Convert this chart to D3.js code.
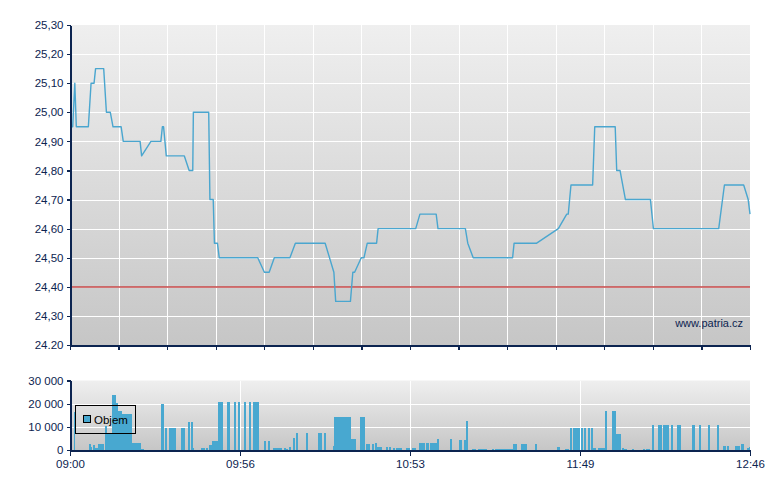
<!DOCTYPE html>
<html><head><meta charset="utf-8">
<script src="https://cdn.jsdelivr.net/npm/d3@7/dist/d3.min.js"></script>
<style>
body{margin:0;background:#fff;}
svg{display:block;font-family:"Liberation Sans",Arial,sans-serif;}
</style>
</head><body>
<svg id="c" width="780" height="490"></svg>
<script>
// ---- DATA ----
// session: 09:00 -> 12:46, times are minutes after 09:00
const sessionMinutes = 226;
const priceTimes = [0,0.9,1.6,2.1,6.1,7.0,8.0,8.5,11.2,12.1,13.4,14.3,17.0,17.7,23.3,23.8,26.9,30.2,30.7,31.1,
  32.0,38.0,39.6,40.8,41.0,46.1,46.5,47.6,48.0,49.0,49.6,62.4,64.6,66.2,67.9,73.1,74.9,84.8,87.7,88.3,
  93.2,94.0,94.6,96.8,97.7,98.8,101.9,102.4,114.9,116.3,121.7,122.3,131.4,132.2,134.0,147.1,147.6,155.1,162.3,165.1,
  165.6,166.5,173.7,174.4,181.2,181.7,182.8,184.6,192.9,193.9,215.6,217.5,223.9,225.4,226];
const priceValues = [24.95,24.95,25.10,24.95,24.95,25.10,25.10,25.15,25.15,25.00,25.00,24.95,24.95,24.90,24.90,24.85,24.90,24.90,24.95,24.95,
  24.85,24.85,24.80,24.80,25.00,25.00,24.70,24.70,24.55,24.55,24.50,24.50,24.45,24.45,24.50,24.50,24.55,24.55,24.45,24.35,
  24.35,24.45,24.45,24.50,24.50,24.55,24.55,24.60,24.60,24.65,24.65,24.60,24.60,24.55,24.50,24.50,24.55,24.55,24.60,24.65,
  24.65,24.75,24.75,24.95,24.95,24.80,24.80,24.70,24.70,24.60,24.60,24.75,24.75,24.70,24.65];
const previousClose = 24.40;

const volStart = [1.2,6.3,7.0,7.6,8.3,9.3,11.6,12.3,14.0,15.3,16.0,17.3,18.6,20.6,23.6,30.2,31.6,32.9,36.9,39.2,
  40.2,40.9,43.5,45.2,46.2,47.2,49.2,52.2,54.5,55.8,57.8,59.5,60.8,61.5,64.5,65.8,67.5,68.5,71.1,71.8,
  72.8,74.1,75.1,78.4,82.4,84.4,87.4,87.8,93.4,96.4,98.4,100.4,101.4,102.1,105.0,106.0,107.4,108.4,111.7,113.7,
  116.0,118.3,119.7,122.0,126.3,129.3,131.0,131.6,133.6,135.6,140.3,141.3,147.2,149.9,154.6,161.9,164.5,166.2,167.2,169.9,
  170.9,172.2,173.2,173.9,175.5,177.8,180.2,181.5,183.5,184.2,186.8,190.5,191.5,193.5,195.5,197.1,199.8,201.8,206.8,209.1,
  212.1,215.1,217.1,218.4,221.0,223.0,225.0,225.7];
const volEnd = [1.7,7.0,7.3,8.3,9.3,11.3,12.3,14.0,15.3,16.0,17.3,18.6,20.6,23.6,24.6,31.2,32.2,35.2,38.2,39.9,
  40.9,41.2,44.9,45.9,47.2,49.2,50.9,53.2,55.2,56.5,58.5,60.2,61.5,62.8,65.1,66.5,68.5,70.5,71.8,72.5,
  73.5,74.8,75.8,79.1,83.8,85.1,87.8,93.4,95.1,98.1,99.7,101.1,102.1,103.7,105.7,106.7,108.0,110.4,113.0,115.0,
  118.0,119.3,122.0,122.7,127.0,130.3,131.6,132.3,134.9,138.6,140.9,147.2,148.6,151.9,155.2,162.9,165.9,166.9,169.5,170.5,
  171.5,172.9,173.9,174.9,177.8,178.5,181.5,183.2,184.2,185.2,187.5,191.1,192.8,194.1,196.8,199.1,200.4,203.1,207.7,209.7,
  212.7,215.7,218.1,219.1,222.7,224.0,225.7,226.0];
const volValues = [16400,2600,1100,2100,700,2600,10300,7300,23600,20300,16900,15400,15400,3000,300,19700,9400,9400,9400,12000,
  12000,900,900,900,2100,4100,20700,20700,20700,20700,20700,20700,20700,20700,3900,3900,1000,1000,1000,600,
  1300,5100,7300,7300,7300,7300,1700,14100,4700,14100,2600,2600,3000,1300,1300,1300,900,900,900,900,
  3000,3000,3000,4700,4700,4300,4300,12400,400,400,400,400,2600,2600,2600,1300,400,9400,9400,9400,
  9400,9400,9400,900,900,16700,16700,6900,900,400,400,400,400,10700,10700,10700,10700,10700,10700,10700,
  10700,10700,1700,1700,1700,2600,900,1300];

const priceTicks = [24.2,24.3,24.4,24.5,24.6,24.7,24.8,24.9,25.0,25.1,25.2,25.3];
const priceTickLabels = ["24.20","24,30","24,40","24,50","24,60","24,70","24,80","24,90","25,00","25,10","25,20","25,30"];
const volTicks = [0,10000,20000,30000];
const volTickLabels = ["0","10 000","20 000","30 000"];
const timeTicks = [0,56.5,113,169.5,226];
const timeTickLabels = ["09:00","09:56","10:53","11:49","12:46"];
const mainGridCount = 14;
const legendLabel = "Objem";
const watermark = "www.patria.cz";

// ---- DRAW ----
const svg = d3.select("#c");
const navy = "#0c2450", blue = "#48a8d0";
const L = 70, R = 750, PT = 25, PB = 345, VT = 380.5, VB = 450;

const x = d3.scaleLinear().domain([0, sessionMinutes]).range([L, R]);
const yP = d3.scaleLinear().domain([24.2, 25.3]).range([PB, PT]);
const yV = d3.scaleLinear().domain([0, 30000]).range([VB, VT]);

const defs = svg.append("defs");
const g = defs.append("linearGradient").attr("id","bg").attr("x1",0).attr("x2",0).attr("y1",0).attr("y2",1);
g.append("stop").attr("offset","0%").attr("stop-color","#efefef");
g.append("stop").attr("offset","100%").attr("stop-color","#c6c6c6");

svg.append("rect").attr("x",L).attr("y",PT).attr("width",R-L).attr("height",PB-PT).attr("fill","url(#bg)");
svg.append("rect").attr("x",L).attr("y",VT).attr("width",R-L).attr("height",VB-VT).attr("fill","url(#bg)");

const mainGridTimes = d3.range(0, mainGridCount+1).map(i => i*sessionMinutes/mainGridCount);

const grid = svg.append("g").attr("stroke","#fff").attr("stroke-width",1.2).attr("shape-rendering","crispEdges");
priceTicks.slice(1, -1).forEach(v => grid.append("line").attr("x1",L).attr("x2",R).attr("y1",Math.round(yP(v))+0.5).attr("y2",Math.round(yP(v))+0.5));
mainGridTimes.slice(1,-1).forEach(t => grid.append("line").attr("x1",Math.round(x(t))+0.5).attr("x2",Math.round(x(t))+0.5).attr("y1",PT).attr("y2",PB));

// previous close line
const pcY = Math.round(yP(previousClose));
svg.append("line").attr("x1",L).attr("x2",R).attr("y1",pcY).attr("y2",pcY)
  .attr("stroke","#c85050").attr("stroke-width",2).attr("stroke-opacity",0.8);

// price line
const line = d3.line().x((d,i)=>x(priceTimes[i])).y((d,i)=>yP(priceValues[i]));
svg.append("path").datum(priceValues).attr("d",line).attr("fill","none")
  .attr("stroke","#4aa6cf").attr("stroke-width",1.4).attr("stroke-linejoin","round");

svg.append("text").attr("x",743).attr("y",327).attr("text-anchor","end").attr("font-size",11).attr("fill",navy).text(watermark);

const axP = svg.append("g").attr("transform",`translate(${L+0.5},0)`)
  .call(d3.axisLeft(yP).tickValues(priceTicks).tickFormat((d,i)=>priceTickLabels[i]).tickSize(4).tickSizeOuter(0).tickPadding(3));
const axPB = svg.append("g").attr("transform",`translate(0,${PB+0.5})`)
  .call(d3.axisBottom(x).tickValues(mainGridTimes).tickFormat("").tickSize(4).tickSizeOuter(0));

const vgrid = svg.append("g").attr("stroke","#fff").attr("stroke-width",1.2).attr("shape-rendering","crispEdges");
volTicks.slice(1,-1).forEach(v => vgrid.append("line").attr("x1",L).attr("x2",R).attr("y1",Math.round(yV(v))+0.5).attr("y2",Math.round(yV(v))+0.5));
timeTicks.slice(1,-1).forEach(t => vgrid.append("line").attr("x1",Math.round(x(t))+0.5).attr("x2",Math.round(x(t))+0.5).attr("y1",VT).attr("y2",VB));

svg.append("g").attr("shape-rendering","crispEdges").selectAll("rect").data(volValues).join("rect")
  .attr("x",(d,i)=>x(volStart[i])).attr("width",(d,i)=>Math.max(1,x(volEnd[i])-x(volStart[i])))
  .attr("y",d=>yV(d)).attr("height",d=>VB-yV(d)).attr("fill",blue);

const axV = svg.append("g").attr("transform",`translate(${L+0.5},0)`)
  .call(d3.axisLeft(yV).tickValues(volTicks).tickFormat((d,i)=>volTickLabels[i]).tickSize(4).tickSizeOuter(0).tickPadding(3));
const axT = svg.append("g").attr("transform",`translate(0,${VB+0.5})`)
  .call(d3.axisBottom(x).tickValues(timeTicks).tickFormat((d,i)=>timeTickLabels[i]).tickSize(5).tickSizeOuter(0).tickPadding(4));

[axP,axPB,axV,axT].forEach(a=>{
  a.attr("font-family",null).attr("font-size",null);
  a.selectAll("path.domain").attr("stroke",navy).attr("stroke-width",1.2).attr("shape-rendering","crispEdges");
  a.selectAll(".tick line").attr("stroke",navy).attr("stroke-width",1.2).attr("shape-rendering","crispEdges");
  a.selectAll(".tick text").attr("fill",navy).attr("font-size",11.5);
});

const lg = svg.append("g");
lg.append("rect").attr("x",75.5).attr("y",405.5).attr("width",60).attr("height",28).attr("fill","none").attr("stroke","#000");
lg.append("rect").attr("x",83.5).attr("y",415.5).attr("width",7).attr("height",7).attr("fill",blue).attr("stroke","#000");
lg.append("text").attr("x",94).attr("y",424).attr("font-size",11.5).attr("fill","#000").text(legendLabel);
</script>
</body></html>
